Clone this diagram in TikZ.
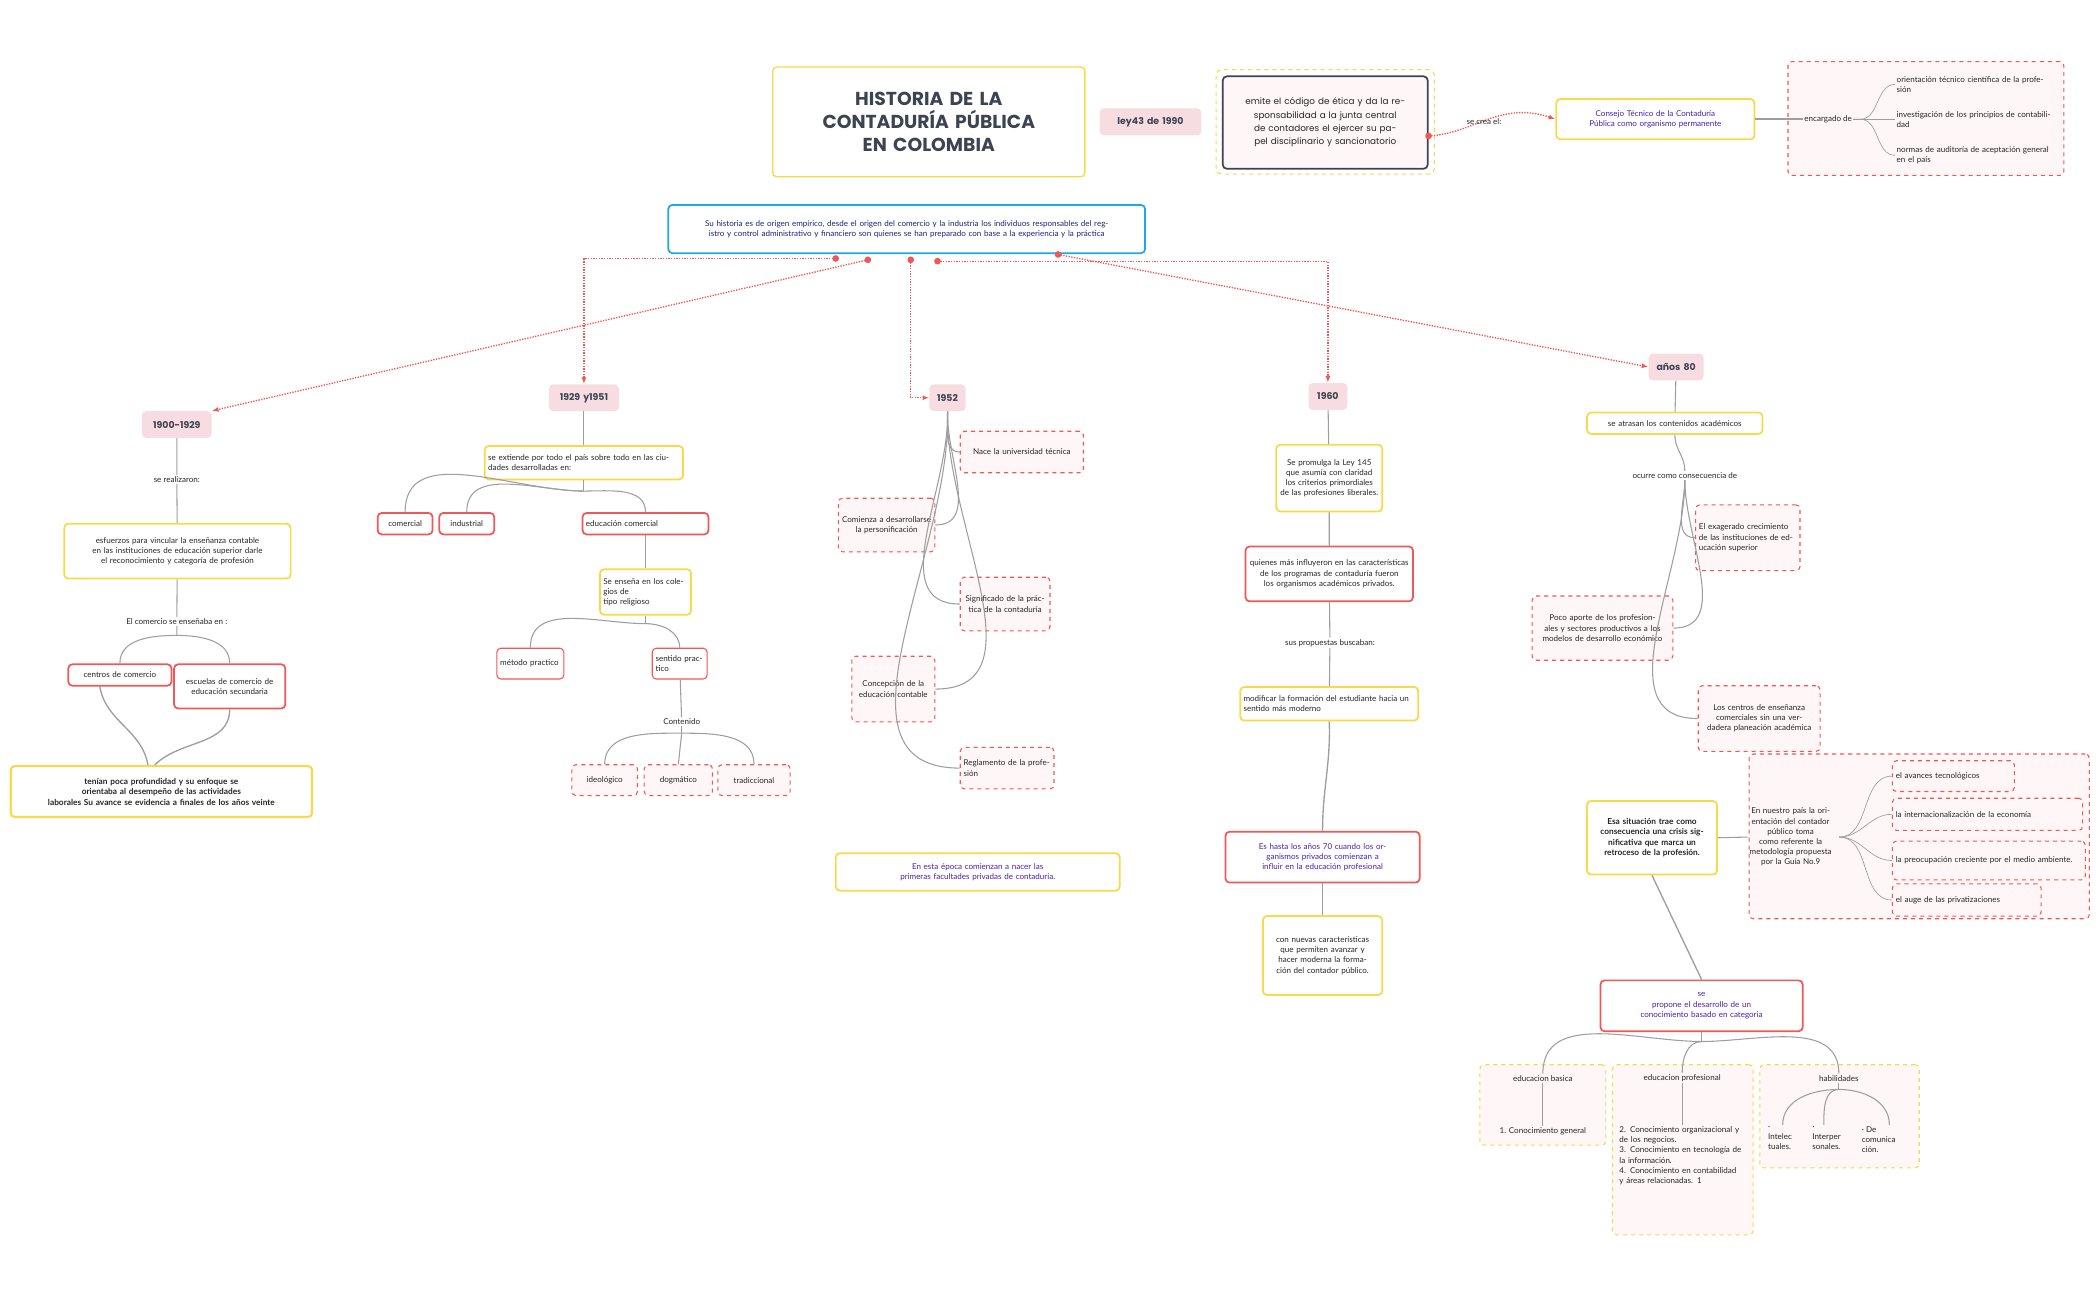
\documentclass[tikz,border=0pt]{standalone}
\usepackage{fontspec}
\setmainfont{Lato}
\newfontfamily\popp{Poppins}
\usetikzlibrary{arrows.meta}
\definecolor{yel}{HTML}{F9D849}
\definecolor{rd}{HTML}{F25757}
\definecolor{pk}{HTML}{F7DCE1}
\definecolor{lf}{HTML}{FFF7F7}
\definecolor{bl}{HTML}{1EA6E8}
\definecolor{pu}{HTML}{4B1FA8}
\definecolor{nv}{HTML}{1A237E}
\definecolor{gl}{HTML}{9E9E9E}
\definecolor{dk}{HTML}{3D4451}
\newcommand\bx[7]{\pgfmathsetmacro\tw{#5-#3-5}\node[#1,minimum width={#5-#3},minimum height={#6-#4},text width=\tw pt] (#2) at ({(#3+#5)/2},{(#4+#6)/2}) {#7};}
\tikzset{
 base/.style={rounded corners=3pt,inner sep=1pt,align=center,font=\fontsize{6}{7.6}\selectfont,text=black!85},
 ybox/.style={base,draw=yel,line width=1.3pt,fill=white},
 rbox/.style={base,draw=rd,line width=1.3pt,fill=white},
 dbox/.style={base,draw=rd,dashed,line width=0.8pt,fill=lf},
 ydbox/.style={base,draw=yel,dashed,line width=0.8pt,fill=lf},
 pbox/.style={base,fill=pk,font=\popp\bfseries\fontsize{7}{8}\selectfont,text=dk},
 lbl/.style={font=\fontsize{6}{7.6}\selectfont,text=black!85,fill=white,inner sep=1pt},
 conn/.style={draw=gl,line width=0.8pt},
 rarr/.style={draw=rd,densely dotted,line width=1pt,-{Latex[length=5pt]}},
}
\begin{document}
\begin{tikzpicture}[x=1pt,y=-1pt]
\useasboundingbox (0,0) rectangle (1568,970);
% title area
\bx{ybox,font=\popp\bfseries\fontsize{14}{17}\selectfont,text=dk,line width=1pt}{title}{577}{50}{810}{132}{HISTORIA DE LA\\CONTADURÍA PÚBLICA\\EN COLOMBIA}
\bx{pbox}{ley}{821}{81}{897}{101}{ley43 de 1990}
\node[draw=yel,dashed,line width=0.8pt,rounded corners=4pt,minimum width=163,minimum height=78] (outer) at (989.5,91) {};
\bx{base,draw=dk,line width=1.3pt,fill=lf,font=\popp\fontsize{6.6}{10}\selectfont}{emite}{913}{57}{1066}{126}{emite el código de ética y da la responsabilidad a la junta central de contadores el ejercer su papel disciplinario y sancionatorio}
\bx{ybox,text=pu}{consejo}{1162}{74}{1310}{104}{Consejo Técnico de la Contaduría Pública como organismo permanente}
\draw[rarr] (emite.east) ++(0,10) coordinate (e1) .. controls (1100,100) and (1120,75) .. (consejo.west);
\fill[rd] (e1) circle (2.5);
\node[lbl,fill=none] (secrea) at (1108,91) {se crea el:};
\node[dbox,minimum width=206,minimum height=85] (enc) at (1438,88.5) {};
\node[lbl,fill=none] (encl) at (1365,89) {encargado de};
\draw[conn,line width=1.5pt] (consejo.east) -- (encl.west);
\node[lbl,fill=none,align=left,text width=118,anchor=west] (o1) at (1415,63) {orientación técnico científica de la profesión};
\node[lbl,fill=none,align=left,text width=118,anchor=west] (o2) at (1415,89) {investigación de los principios de contabilidad};
\node[lbl,fill=none,align=left,text width=118,anchor=west] (o3) at (1415,116) {normas de auditoría de aceptación general en el país};
\foreach \o in {o1,o2,o3}{\draw[conn,line width=0.5pt] (encl.east) -- ++(5,0) to[out=0,in=180] (\o.west);}
% blue box
\bx{base,draw=bl,line width=1.3pt,fill=white,text=nv}{hist}{499}{153}{855}{189}{Su historia es de origen empírico, desde el origen del comercio y la industria los individuos responsables del registro y control administrativo y financiero son quienes se han preparado con base a la experiencia y la práctica}
% period nodes
\bx{pbox}{p1}{106}{307}{158}{327}{1900-1929}
\bx{pbox}{p2}{410}{287}{462}{307}{1929 y1951}
\bx{pbox}{p3}{694}{287}{721}{307}{1952}
\bx{pbox}{p4}{977}{286}{1006}{306}{1960}
\bx{pbox}{p5}{1231}{264}{1272}{284}{años 80}
\coordinate (s1) at (624,193); \coordinate (s2) at (648,194);
\coordinate (s3) at (680,194); \coordinate (s4) at (700,195); \coordinate (s5) at (790,190);
\draw[rarr] (s2) -- (p1.north east);
\draw[rarr] (s1) -| (p2.north);
\draw[rarr] (s3) |- (p3.west);
\draw[rarr] (s4) -| (p4.north);
\draw[rarr] (s5) -- (p5.west);
\foreach \s in {s1,s2,s3,s4,s5}{\fill[rd] (\s) circle (2.5);}
% 1900-1929
\node[lbl] (r1) at (132,358) {se realizaron:};
\bx{ybox}{esf}{48}{391}{217}{432}{esfuerzos para vincular la enseñanza contable en las instituciones de educación superior darle el reconocimiento y categoría de profesión}
\node[lbl] (r2) at (132,464) {El comercio se enseñaba en :};
\bx{rbox}{cc}{51}{496}{128}{512}{centros de comercio}
\bx{rbox}{ec}{130}{496}{213}{529}{escuelas de comercio de educación secundaria}
\bx{ybox,font=\fontsize{6.2}{7.8}\selectfont\bfseries,line width=1.6pt}{ten}{8}{572}{233}{610}{tenían poca profundidad y su enfoque se orientaba al desempeño de las actividades\\laborales Su avance se evidencia a finales de los años veinte}
\draw[conn] (p1) -- (r1) -- (esf) -- (r2);
\draw[conn] (r2.south) -- ++(0,7) to[out=180,in=90] (cc.north);
\draw[conn] (r2.south) ++(0,7) to[out=0,in=90] (ec.north);
\draw[conn,line width=1pt] (cc.south) ++(-15,0) to[out=-80,in=100] ([xshift=-10]ten.north);
\draw[conn,line width=1pt] (ec.south) to[out=-90,in=45] ([xshift=-5]ten.north);
% 1929 y 1951
\bx{ybox,align=left}{ext}{362}{333}{510}{358}{se extiende por todo el país sobre todo en las ciudades desarrolladas en:}
\bx{rbox}{com}{282}{383}{323}{399}{comercial}
\bx{rbox}{ind}{328}{383}{369}{399}{industrial}
\bx{rbox,align=left}{edc}{435}{383}{529}{399}{educación comercial}
\bx{ybox,align=left}{rel}{448}{425}{516}{459}{Se enseña en los colegios de\\tipo religioso}
\bx{rbox,align=left,line width=0.8pt}{met}{371}{484}{421}{507}{método practico}
\bx{rbox,align=left,line width=0.8pt}{sen}{487}{484}{528}{507}{sentido practico}
\node[lbl] (cont) at (509,539) {Contenido};
\bx{dbox}{ide}{427}{571}{476}{594}{ideológico}
\bx{dbox}{dog}{481}{571}{532}{594}{dogmático}
\bx{dbox}{tra}{536}{571}{590}{594}{tradiccional}
\draw[conn] (p2) -- (ext);
\draw[conn] (ext.south) -- ++(0,8) coordinate (f1);
\draw[conn] (f1) to[out=180,in=90] (com.north);
\draw[conn] (f1) to[out=180,in=90] (ind.north);
\draw[conn] (f1) to[out=0,in=90] (edc.north);
\draw[conn] (edc) -- (rel);
\draw[conn] (rel.south) -- ++(0,6) coordinate (f2);
\draw[conn] (f2) to[out=180,in=90] (met.north);
\draw[conn] (f2) to[out=0,in=90] (sen.north);
\draw[conn] (sen) -- (cont);
\draw[conn] (cont.south) -- ++(0,5) coordinate (f3);
\draw[conn] (f3) to[out=180,in=90] (ide.north);
\draw[conn] (f3) -- (dog.north);
\draw[conn] (f3) to[out=0,in=90] (tra.north);
% 1952
\bx{dbox}{nac}{717}{322}{809}{353}{Nace la universidad técnica}
\bx{dbox}{cmz}{626}{372}{698}{412}{Comienza a desarrollarse la personificación}
\bx{dbox}{sig}{717}{431}{784}{471}{Significado de la práctica de la contaduría}
\bx{dbox}{cpc}{636}{490}{698}{539}{Concepción de la educación contable}
\bx{dbox,align=left}{reg}{717}{558}{787}{589}{Reglamento de la profesión}
\foreach \b in {nac,sig,reg}{\draw[conn] (p3.south) to[out=-88,in=180] (\b.west);}
\foreach \b in {cmz,cpc}{\draw[conn] (p3.south) to[out=-92,in=0] (\b.east);}
\bx{ybox,text=pu}{epo}{624}{637}{836}{665}{En esta época comienzan a nacer las primeras facultades privadas de contaduría.}
% 1960
\bx{ybox}{ley145}{953}{332}{1032}{382}{Se promulga la Ley 145 que asumía con claridad los criterios primordiales de las profesiones liberales.}
\bx{rbox}{qui}{930}{408}{1055}{449}{quienes más influyeron en las características de los programas de contaduría fueron los organismos académicos privados.}
\node[lbl] (sus) at (993,480) {sus propuestas buscaban:};
\bx{ybox,align=left}{mod}{926}{513}{1059}{538}{modificar la formación del estudiante hacia un sentido más moderno}
\bx{rbox,text=pu}{a70}{915}{621}{1060}{659}{Es hasta los años 70 cuando los organismos privados comienzan a\\influir en la educación profesional}
\bx{ybox}{nue}{943}{684}{1032}{743}{con nuevas características que permiten avanzar y hacer moderna la formación del contador público.}
\draw[conn] (p4) -- (ley145) -- (qui) -- (sus) -- (mod);
\draw[conn,line width=1pt] (mod.south) to[out=-88,in=90] (a70.north);
\draw[conn] (a70) -- (nue);
% años 80
\bx{ybox}{atr}{1185}{308}{1316}{324}{se atrasan los contenidos académicos}
\node[lbl] (ocu) at (1258,355) {ocurre como consecuencia de};
\bx{dbox,align=left}{exa}{1266}{377}{1344}{426}{El exagerado crecimiento de las instituciones de educación superior}
\bx{dbox}{poc}{1144}{445}{1249}{493}{Poco aporte de los profesionales y sectores productivos a los modelos de desarrollo económico}
\bx{dbox}{cen}{1268}{512}{1359}{561}{Los centros de enseñanza comerciales sin una verdadera planeación académica}
\draw[conn] (p5) -- (atr);
\draw[conn] (atr.south) to[out=-90,in=90] (ocu.north);
\draw[conn] (ocu.south) to[out=-90,in=180] (exa.west);
\draw[conn] (ocu.south) to[out=-90,in=0] (poc.east);
\draw[conn] (ocu.south) to[out=-90,in=180] (cen.west);
\bx{ybox,font=\fontsize{6.2}{7.8}\selectfont\bfseries}{esa}{1185}{598}{1282}{653}{Esa situación trae como consecuencia una crisis significativa que marca un retroceso de la profesión.}
\node[dbox,minimum width=254,minimum height=123] (big) at (1433,624.5) {};
\node[lbl,fill=none,text width=62,align=center] (nue9) at (1337,625) {En nuestro país la orientación del contador\\público toma como referente la metodología propuesta por la Guía No.9};
\bx{dbox,align=left}{i1}{1413}{568}{1504}{591}{el avances tecnológicos}
\bx{dbox,align=left}{i2}{1413}{596}{1555}{620}{la internacionalización de la economía}
\bx{dbox,align=left}{i3}{1413}{628}{1557}{657}{la preocupación creciente por el medio ambiente.}
\bx{dbox,align=left}{i4}{1413}{660}{1524}{684}{el auge de las privatizaciones}
\draw[conn] (esa.east) -- (nue9.west);
\foreach \i in {i1,i2,i3,i4}{\draw[conn,line width=0.5pt] (nue9.east) ++(4,0) to[out=0,in=180] (\i.west);}
\bx{rbox,text=pu}{pro}{1195}{732}{1346}{770}{se\\propone el desarrollo de un conocimiento basado en categoria}
\draw[conn,line width=1pt] (esa.south) -- (pro.north);
\node[ydbox,minimum width=94,minimum height=60] (eb) at (1152,825) {};
\node[ydbox,minimum width=105,minimum height=127] (ep) at (1256.5,858.5) {};
\node[ydbox,minimum width=119,minimum height=77] (hb) at (1373.5,833.5) {};
\node[lbl,fill=none] (ebt) at (1152,805) {educacion basica};
\node[lbl,fill=none] (ebc) at (1152,845) {1. Conocimiento general};
\node[lbl,fill=none] (ept) at (1256,805) {educacion profesional};
\node[lbl,fill=none,align=left,text width=92,anchor=north west] (epc) at (1208,840) {2. Conocimiento organizacional y de los negocios.\\3. Conocimiento en tecnología de la información.\\4. Conocimiento en contabilidad y áreas relacionadas. 1};
\node[lbl,fill=none] (hbt) at (1373,805) {habilidades};
\node[lbl,fill=none,align=left,anchor=north west] (h1) at (1319,840) {·\\Intelec\\tuales.};
\node[lbl,fill=none,align=left,anchor=north west] (h2) at (1352,840) {·\\Interper\\sonales.};
\node[lbl,fill=none,align=left,anchor=north west] (h3) at (1389,840) {· De\\comunica\\ción.};
\draw[conn] (pro.south) -- ++(0,7) coordinate (f4);
\draw[conn] (f4) to[out=180,in=90] (ebt.north);
\draw[conn] (f4) to[out=180,in=90] (ept.north);
\draw[conn] (f4) to[out=0,in=90] (hbt.north);
\draw[conn] (ebt) -- (ebc);
\draw[conn] (ept) -- (ept |- epc.north);
\draw[conn] (hbt.south) -- ++(0,5) coordinate (f5);
\draw[conn] (f5) to[out=180,in=90] ([xshift=2]h1.north);
\draw[conn] (f5) to[out=180,in=90] ([xshift=-2]h2.north);
\draw[conn] (f5) to[out=0,in=90] ([xshift=8]h3.north);
\end{tikzpicture}
\end{document}
